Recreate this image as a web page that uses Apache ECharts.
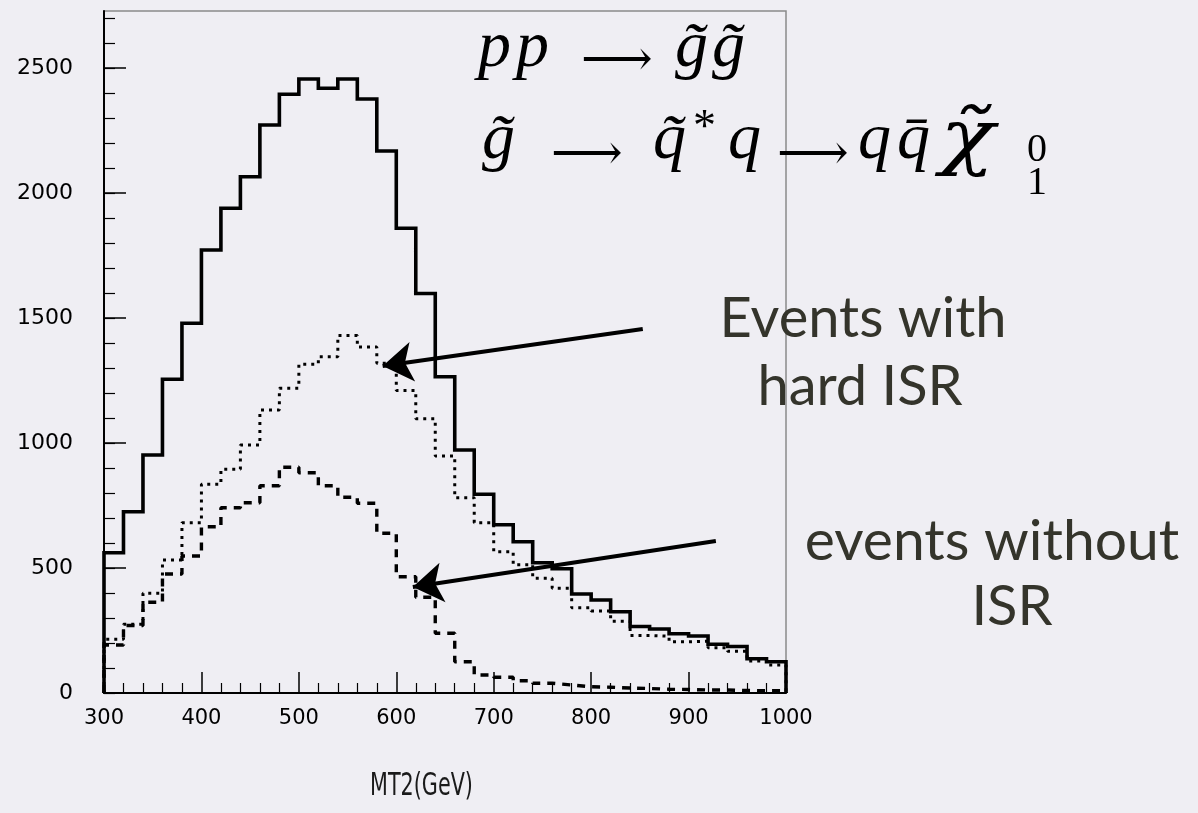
<!DOCTYPE html>
<html>
<head>
<meta charset="utf-8">
<script src="https://cdn.jsdelivr.net/npm/echarts@6/dist/echarts.min.js"></script>
<style>
html,body{margin:0;padding:0;background:#efeef3;}
#chart{width:1198px;height:813px;}
</style>
</head>
<body>
<div id="chart"></div>
<script>
// ---- data ----
const binLowEdges = [300,320,340,360,380,400,420,440,460,480,500,520,540,560,580,600,620,640,660,680,700,720,740,760,780,800,820,840,860,880,900,920,940,960,980];
const binUpperEnd = 1000;
const allEvents = [561,725,952,1255,1479,1772,1939,2065,2272,2395,2456,2419,2456,2376,2168,1859,1598,1265,972,795,673,605,521,497,396,372,325,266,256,237,228,195,186,137,125];
const hardISR   = [215,275,399,532,681,835,895,992,1132,1219,1315,1345,1430,1384,1319,1210,1097,948,781,681,565,513,459,419,341,328,287,230,227,205,207,181,167,128,112];
const noISR     = [192,270,363,476,548,665,741,761,829,903,881,829,783,759,639,465,383,239,125,72,63,49,39,32,25,23,20,18,15,14,12,12,10,9,9];
const yMajorTicks = [0,500,1000,1500,2000,2500];
const yMinorTicks = [0,100,200,300,400,500,600,700,800,900,1000,1100,1200,1300,1400,1500,1600,1700,1800,1900,2000,2100,2200,2300,2400,2500,2600,2700];
const xAxisTitle = 'MT2(GeV)';
const arrowHardISR = [[853,1456],[586,1308]];
const arrowNoISR   = [[928,608],[617,424]];

function histSteps(vals){
  const d = [[binLowEdges[0],0]];
  binLowEdges.forEach((x,i)=>d.push([x, vals[i]]));
  d.push([binUpperEnd, vals[vals.length-1]]);
  d.push([binUpperEnd, 0]);
  return d;
}

const chart = echarts.init(document.getElementById('chart'), null, {renderer:'canvas'});
const serif = "'Liberation Serif','DejaVu Serif',serif";
const labelFont = "Lato, 'Open Sans', sans-serif";
const annColor = '#34342b';
const M = 'italic 66px ' + serif;
const ARROW = '50px ' + serif;

function t(x, y, text, font, sx, fill){
  return {type:'text', x:x, y:y, scaleX:sx||1, silent:true,
    style:{text:text, font:font, fill:fill||'#000', align:'left', verticalAlign:'top'}};
}
function ann(x, top, text, size){
  return {type:'text', x:x, y:top, silent:true,
    style:{text:text, font:(size||56)+'px '+labelFont, fill:annColor, align:'center', verticalAlign:'top'}};
}

const option = {
  backgroundColor: '#efeef3',
  animation: false,
  grid: {left:104, right:412, top:11, bottom:120, containLabel:false, outerBoundsMode:'none',
         show:true, borderColor:'#8a8a8a', borderWidth:1.5, backgroundColor:'transparent'},
  xAxis: {
    type:'value', min:300, max:1000, interval:100,
    axisLine:{show:true, lineStyle:{color:'#000', width:2}},
    axisTick:{show:true, inside:true, length:21, lineStyle:{color:'#000', width:1.5}},
    minorTick:{show:true, splitNumber:5, length:10, lineStyle:{color:'#000', width:1.2}},
    axisLabel:{color:'#000', fontFamily:"'DejaVu Sans',sans-serif", fontSize:21, margin:15,
               formatter:(v)=>String(v)},
    splitLine:{show:false}, minorSplitLine:{show:false}
  },
  yAxis: [
    {
      type:'value', min:0, max:2728,
      axisLine:{show:true, onZero:false, lineStyle:{color:'#000', width:2}},
      axisTick:{show:true, inside:true, length:22, customValues:yMajorTicks, lineStyle:{color:'#000', width:1.5}},
      axisLabel:{color:'#000', fontFamily:"'DejaVu Sans',sans-serif", fontSize:22, margin:31,
                 customValues:yMajorTicks, formatter:(v)=>String(v)},
      splitLine:{show:false}
    },
    {
      type:'value', min:0, max:2728, position:'left',
      axisLine:{show:false},
      axisTick:{show:true, inside:true, length:11, customValues:yMinorTicks, lineStyle:{color:'#000', width:1.2}},
      axisLabel:{show:false},
      splitLine:{show:false}
    }
  ],
  series: [
    {
      name:'all', type:'line', step:'end', data:histSteps(allEvents), showSymbol:false, silent:true,
      lineStyle:{color:'#000', width:3.6, cap:'butt', join:'miter'},
      markLine:{
        silent:true, symbol:['none','arrow'], symbolSize:30, animation:false,
        label:{show:false},
        lineStyle:{color:'#000', width:4, type:'solid'},
        emphasis:{disabled:true},
        data:[
          [{coord:arrowHardISR[0]},{coord:arrowHardISR[1]}],
          [{coord:arrowNoISR[0]},{coord:arrowNoISR[1]}]
        ]
      }
    },
    {
      name:'hard ISR', type:'line', step:'end', data:histSteps(hardISR), showSymbol:false, silent:true,
      lineStyle:{color:'#000', width:3, type:[3,5], cap:'butt'}
    },
    {
      name:'no ISR', type:'line', step:'end', data:histSteps(noISR), showSymbol:false, silent:true,
      lineStyle:{color:'#000', width:3.4, type:[8,7], cap:'butt'}
    }
  ],
  graphic: [
    // line 1: pp -> g~ g~
    t(478, 16, 'p', M), t(516, 16, 'p', M),
    t(581, 37, '\u27F6', ARROW),
    t(675, 16, 'g\u0303', M), t(712, 16, 'g\u0303', M),
    // line 2: g~ -> q~* q -> q qbar chi~ _1^0
    t(482, 108, 'g\u0303', M),
    t(551, 131, '\u27F6', ARROW),
    t(653, 108, 'q\u0303', M),
    t(693, 106, '*', '46px ' + serif),
    t(728, 108, 'q', M),
    t(777, 131, '\u27F6', ARROW),
    t(858, 108, 'q', M),
    t(897, 108, 'q\u0304', M),
    t(940, 106, '\u03C7\u0303', "italic 72px 'DejaVu Serif','Liberation Serif',serif", 1.25),
    t(1027, 130, '0', '40px ' + serif),
    t(1027, 163, '1', '40px ' + serif),
    // x axis title
    t(370, 771, xAxisTitle, "32px 'DejaVu Sans Condensed','DejaVu Sans',sans-serif", 0.72, '#1a1a1a'),
    // annotations
    ann(863, 291, 'Events with'),
    ann(860, 359, 'hard ISR'),
    ann(992, 513, 'events without', 57),
    ann(1012, 579, 'ISR')
  ]
};
chart.setOption(option);
</script>
</body>
</html>
